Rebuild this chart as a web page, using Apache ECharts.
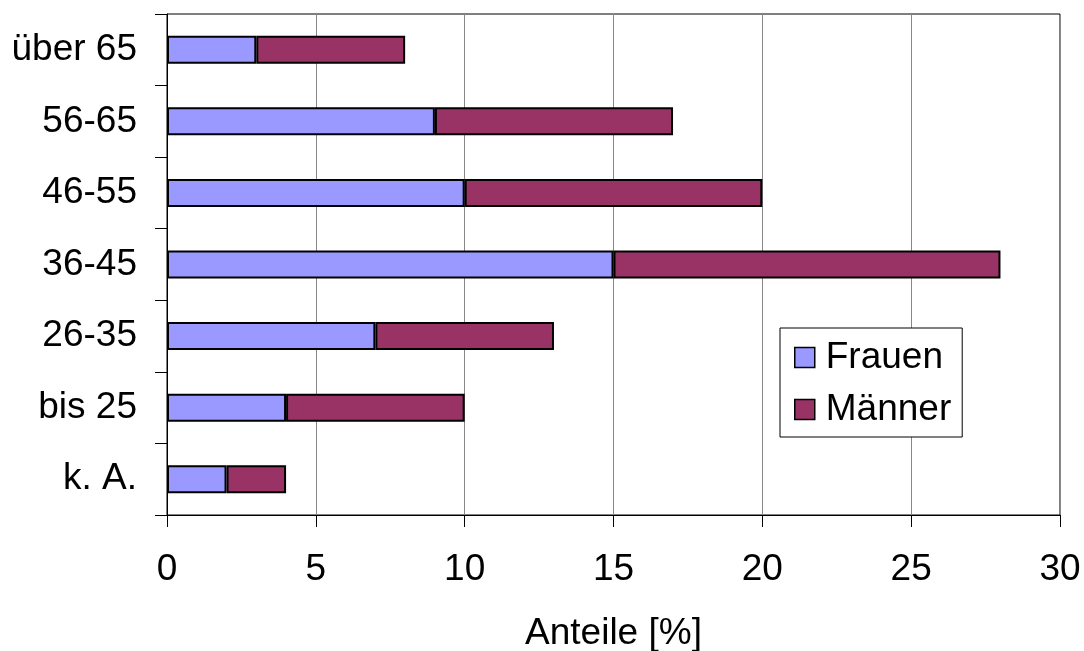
<!DOCTYPE html>
<html>
<head>
<meta charset="utf-8">
<script src="https://cdn.jsdelivr.net/npm/echarts@6/dist/echarts.min.js"></script>
<style>
  html, body { margin: 0; padding: 0; background: #fff; }
  #chart { width: 1084px; height: 651px; }
</style>
</head>
<body>
<div id="chart"></div>
<script>
// Age groups, listed bottom to top
const ageGroups = ['k. A.', 'bis 25', '26-35', '36-45', '46-55', '56-65', 'über 65'];
// Shares in percent
const frauen = [2, 4, 7, 15, 10, 9, 3];
const maenner = [2, 6, 6, 13, 10, 8, 5];
const xTicks = [0, 5, 10, 15, 20, 25, 30];

const FONT = 'Liberation Sans, Arial, sans-serif';
const FS = 37;

const chart = echarts.init(document.getElementById('chart'), null, { renderer: 'canvas' });

chart.setOption({
  animation: false,
  backgroundColor: '#fff',
  grid: {
    left: 167, right: 24, top: 14, bottom: 136,
    outerBoundsMode: 'none',
    containLabel: false,
    show: true, borderColor: '#000', borderWidth: 1
  },
  legend: {
    orient: 'vertical',
    left: 780, top: 328,
    padding: [11, 11, 9, 14],
    itemWidth: 20, itemHeight: 20, itemGap: 15,
    backgroundColor: '#fff',
    borderColor: '#000', borderWidth: 1, borderRadius: 0,
    icon: 'rect',
    itemStyle: { borderColor: '#000', borderWidth: 1.5 },
    textStyle: { fontFamily: FONT, fontSize: FS, color: '#000', lineHeight: 37, padding: [0, 0, 0, 6] },
    data: ['Frauen', 'Männer']
  },
  xAxis: {
    type: 'value',
    min: xTicks[0], max: xTicks[xTicks.length - 1], interval: 5,
    name: 'Anteile [%]',
    nameLocation: 'middle',
    nameGap: 100,
    nameTextStyle: { fontFamily: FONT, fontSize: FS, color: '#000' },
    axisLine: { show: true, lineStyle: { color: '#000', width: 1 } },
    axisTick: { show: true, inside: false, length: 12, lineStyle: { color: '#000' } },
    axisLabel: { margin: 36, fontFamily: FONT, fontSize: FS, color: '#000' },
    splitLine: { show: true, lineStyle: { color: '#888', width: 1 } }
  },
  yAxis: {
    type: 'category',
    data: ageGroups,
    axisLine: { show: true, lineStyle: { color: '#000', width: 1 } },
    axisTick: { show: true, inside: false, length: 12, lineStyle: { color: '#000' } },
    axisLabel: { margin: 30, fontFamily: FONT, fontSize: FS, color: '#000' },
    splitLine: { show: false }
  },
  series: [
    {
      name: 'Frauen', type: 'bar', stack: 'total', data: frauen,
      barWidth: 28,
      itemStyle: { color: '#9999FF', borderColor: '#000', borderWidth: 2 }
    },
    {
      name: 'Männer', type: 'bar', stack: 'total', data: maenner,
      barWidth: 28,
      itemStyle: { color: '#993366', borderColor: '#000', borderWidth: 2 }
    }
  ]
});
</script>
</body>
</html>
